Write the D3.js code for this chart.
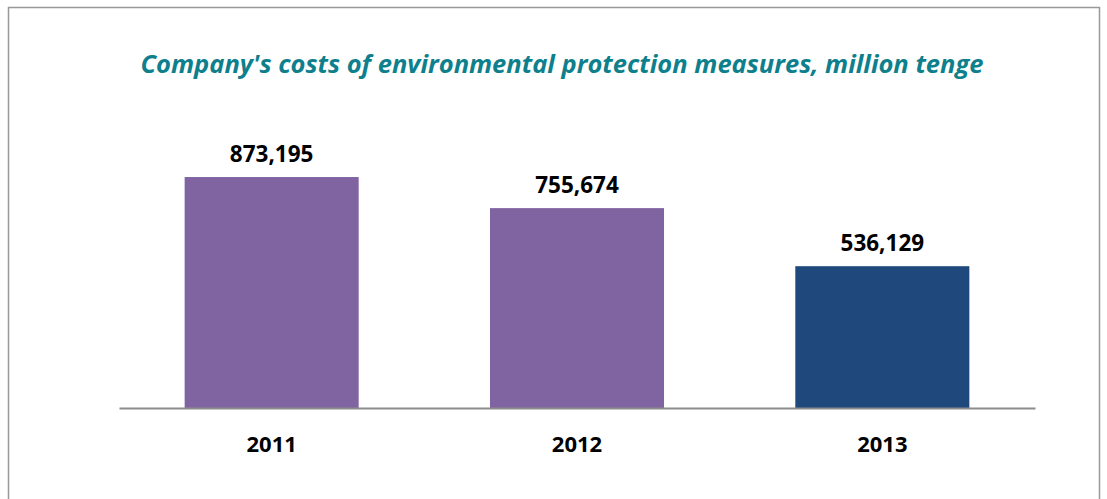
<!DOCTYPE html>
<html>
<head>
<meta charset="utf-8">
<script src="https://cdn.jsdelivr.net/npm/d3@7"></script>
<style>
  body { margin: 0; background: #fff; }
  text { font-family: "Open Sans", sans-serif; }
</style>
</head>
<body>
<div id="chart"></div>
<script>
var years = ["2011", "2012", "2013"];
var costs = [873195, 755674, 536129];
var barColors = ["#8064A2", "#8064A2", "#1F497D"];
var titleText = "Company's costs of environmental protection measures, million tenge";

var width = 1107, height = 499;

var svg = d3.select("#chart").append("svg")
    .attr("width", width)
    .attr("height", height);

// outer frame
svg.append("rect")
    .attr("x", 8.5).attr("y", 7.5)
    .attr("width", 1091).attr("height", 500)
    .attr("fill", "#fff")
    .attr("stroke", "#999")
    .attr("stroke-width", 1.5);

svg.append("text")
    .attr("x", 562).attr("y", 73)
    .attr("text-anchor", "middle")
    .style("font-size", "25.5px")
    .style("font-weight", "bold")
    .style("font-style", "italic")
    .style("fill", "#0E7F8C")
    .text(titleText);

var x = d3.scaleBand()
    .domain(years)
    .range([119, 1035])
    .paddingInner(0.43)
    .paddingOuter(0.215);

var y = d3.scaleLinear()
    .domain([0, 1000000])
    .range([408, 143.5]);

svg.selectAll(".bar")
    .data(years)
    .enter().append("rect")
    .attr("class", "bar")
    .attr("x", function (d) { return x(d); })
    .attr("y", function (d, i) { return y(costs[i]); })
    .attr("width", x.bandwidth())
    .attr("height", function (d, i) { return y(0) - y(costs[i]); })
    .attr("fill", function (d, i) { return barColors[i]; });

svg.selectAll(".val")
    .data(years)
    .enter().append("text")
    .attr("class", "val")
    .attr("x", function (d) { return x(d) + x.bandwidth() / 2; })
    .attr("y", function (d, i) { return y(costs[i]) - 15; })
    .attr("text-anchor", "middle")
    .style("font-size", "22.5px")
    .style("font-weight", "bold")
    .style("fill", "#000")
    .text(function (d, i) { return d3.format(",")(costs[i]); });

// x axis: baseline + year labels
var xAxis = svg.append("g")
    .attr("transform", "translate(0,408)")
    .call(d3.axisBottom(x).tickSize(0).tickPadding(28));
xAxis.select(".domain").attr("stroke", "#8c8c8c").attr("stroke-width", 2);
xAxis.selectAll("text")
    .style("font-family", "'Open Sans', sans-serif")
    .style("font-size", "22px")
    .style("font-weight", "bold")
    .style("fill", "#000");
</script>
</body>
</html>
